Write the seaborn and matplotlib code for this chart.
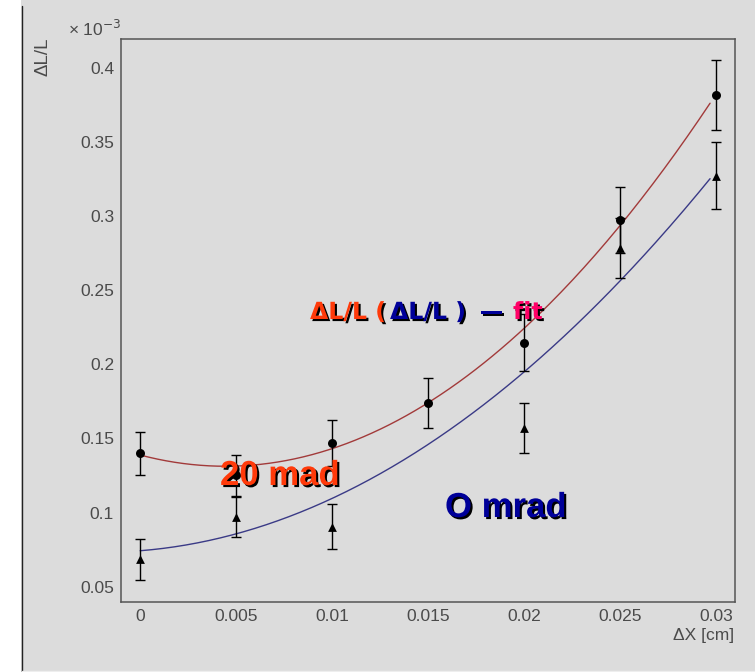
import numpy as np
import pandas as pd
import matplotlib
matplotlib.use("Agg")
import matplotlib.pyplot as plt
import matplotlib.patheffects as pe
from matplotlib.patches import Rectangle
from matplotlib.lines import Line2D
from matplotlib.ticker import MultipleLocator, FixedLocator, FixedFormatter
import seaborn as sns

# 20 mrad points (circles), dL/L in units of 1e-3
x_20 = [0, 0.005, 0.01, 0.015, 0.02, 0.025, 0.03]
y_20 = [0.140, 0.125, 0.147, 0.174, 0.2146, 0.2974, 0.3818]
err_20 = [0.0144, 0.0136, 0.0156, 0.017, 0.0193, 0.0223, 0.0236]

# 0 mrad points (triangles)
x_0 = [0, 0.005, 0.01, 0.02, 0.025, 0.03]
y_0 = [0.0684, 0.097, 0.0904, 0.157, 0.2783, 0.3273]
err_0 = [0.0139, 0.0136, 0.0151, 0.0170, 0.0203, 0.0226]

# quadratic fit coefficients (c0, c1, c2)
fit_20 = [0.1388, -3.41, 384.0]
fit_0 = [0.0742, 1.03, 250.0]
fit_range = [0, 0.0297]

x_ticks = [0, 0.005, 0.01, 0.015, 0.02, 0.025, 0.03]
x_ticklabels = ["0", "0.005", "0.01", "0.015", "0.02", "0.025", "0.03"]
y_ticks = [0.05, 0.1, 0.15, 0.2, 0.25, 0.3, 0.35, 0.4]
y_ticklabels = ["0.05", "0.1", "0.15", "0.2", "0.25", "0.3", "0.35", "0.4"]

W, H = 755, 672
bg = "#dcdcdc"

sns.set_style("white")
plt.rcParams["font.family"] = ["Liberation Sans", "DejaVu Sans"]

fig = plt.figure(figsize=(W / 100, H / 100), dpi=100, facecolor=bg)
# white margin on the left with dark border, like the screenshot
fig.patches.append(Rectangle((0, 0), 21 / W, 1, transform=fig.transFigure,
                             facecolor="white", edgecolor="none", zorder=-1))
fig.lines.append(Line2D([21.5 / W, 21.5 / W], [0, 1 - 6 / H], transform=fig.transFigure,
                        color="#222222", lw=1))
fig.lines.append(Line2D([21.5 / W, 1], [1 - 670.5 / H, 1 - 670.5 / H], transform=fig.transFigure,
                        color="#eeeeee", lw=1))

ax = fig.add_axes([121 / W, 1 - 602 / H, (735 - 121) / W, (602 - 39) / H])
ax.set_facecolor(bg)

xs = np.linspace(fit_range[0], fit_range[1], 200)
curves = pd.DataFrame({
    "x": np.concatenate([xs, xs]),
    "y": np.concatenate([np.polyval(fit_20[::-1], xs), np.polyval(fit_0[::-1], xs)]),
    "set": ["20"] * len(xs) + ["0"] * len(xs),
})
sns.lineplot(data=curves, x="x", y="y", hue="set", palette={"20": "#a23a3a", "0": "#3a3a86"},
             lw=1, legend=False, ax=ax, zorder=2)

ax.errorbar(x_20, y_20, yerr=err_20, fmt="none", ecolor="black", elinewidth=1,
            capsize=3.5, capthick=1, zorder=3)
ax.errorbar(x_0, y_0, yerr=err_0, fmt="none", ecolor="black", elinewidth=1,
            capsize=3.5, capthick=1, zorder=3)
sns.scatterplot(x=x_20, y=y_20, marker="o", s=42, color="black", edgecolor="black",
                linewidth=0, ax=ax, zorder=4)
sns.scatterplot(x=x_0, y=y_0, marker="^", s=40, color="black", edgecolor="black",
                linewidth=0, ax=ax, zorder=4)

ax.set_xlim(-0.001, 0.031)
ax.set_ylim(0.0396, 0.4196)
ax.xaxis.set_major_locator(FixedLocator(x_ticks))
ax.xaxis.set_major_formatter(FixedFormatter(x_ticklabels))
ax.yaxis.set_major_locator(FixedLocator(y_ticks))
ax.yaxis.set_major_formatter(FixedFormatter(y_ticklabels))
ax.xaxis.set_minor_locator(MultipleLocator(0.001))
ax.yaxis.set_minor_locator(MultipleLocator(0.01))
ax.tick_params(which="both", direction="in", color="#555555", width=1,
               labelcolor="#4a4a4a", labelsize=12.5)
ax.tick_params(which="major", length=7.5)
ax.tick_params(which="minor", length=4)
ax.tick_params(axis="y", pad=5)
ax.tick_params(axis="x", pad=5)
ax.set_xlabel("")
ax.set_ylabel("")
for s in ax.spines.values():
    s.set_color("#555555")
    s.set_linewidth(1.1)

# axis titles
fig.text(734 / W, 1 - 640 / H, "ΔX [cm]", ha="right", va="baseline", fontsize=12.5, color="#4a4a4a")
fig.text(43 / W, 1 - 37 / H, "ΔL/L", ha="center", va="top", rotation=90, fontsize=13.5, color="#4a4a4a")
fig.text(68 / W, 1 - 36 / H, r"× 10$^{-3}$", ha="left", va="baseline", fontsize=12.5, color="#4a4a4a")

# annotations with shadow
shadow = [pe.withSimplePatchShadow(offset=(1.5, -1.5), shadow_rgbFace="black", alpha=1.0)]
orange = "#ff3a0a"
navy = "#000099"
pink = "#ff0066"
title_parts = [(310, "ΔL/L (", orange), (390, "ΔL/L )", navy), (480, "—", navy), (513, "fit", pink)]
for px, txt, col in title_parts:
    fig.text(px / W, 1 - 319 / H, txt, ha="left", va="baseline", fontsize=17,
             fontweight="bold", family="DejaVu Sans", color=col, path_effects=shadow)
fig.text(220 / W, 1 - 485 / H, "20 mad", ha="left", va="baseline", fontsize=25,
         fontweight="bold", color=orange, path_effects=shadow)
fig.text(445 / W, 1 - 517 / H, "O mrad", ha="left", va="baseline", fontsize=25,
         fontweight="bold", color=navy, path_effects=shadow)

fig.savefig("out.png", dpi=100, facecolor=fig.get_facecolor())
